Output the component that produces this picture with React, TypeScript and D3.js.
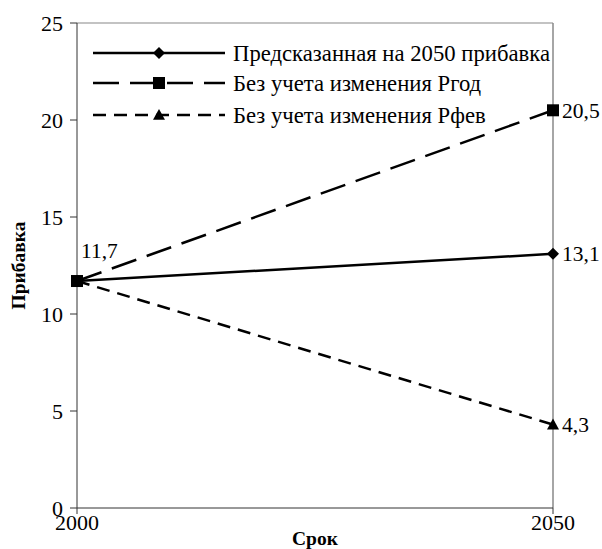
import React from "react";
import * as d3 from "d3";

const years = ["2000", "2050"];
const predicted = [11.7, 13.1];
const noYearChange = [11.7, 20.5];
const noFebChange = [11.7, 4.3];
const yTicks = [0, 5, 10, 15, 20, 25];
const seriesNames = [
  "Предсказанная на 2050 прибавка",
  "Без учета изменения Ргод",
  "Без учета изменения Рфев",
];

const W = 602, H = 549;
const M = { left: 77, right: 553, top: 23, bottom: 508 };
const FONT = "Liberation Serif, DejaVu Serif, serif";
const fs = (size: number, extra: any = {}) => ({ fontFamily: FONT, fontSize: size, ...extra });

export default function App() {
  const x = d3.scalePoint<string>().domain(years).range([M.left, M.right]);
  const y = d3.scaleLinear().domain([0, 25]).range([M.bottom, M.top]);
  const line = d3.line<number>().x((_, i) => x(years[i])!).y((d) => y(d));

  const series = [
    { name: seriesNames[0], values: predicted, dash: "", marker: "diamond" },
    { name: seriesNames[1], values: noYearChange, dash: "26 11", marker: "square" },
    { name: seriesNames[2], values: noFebChange, dash: "13 8", marker: "triangle" },
  ];

  const marker = (type: string, cx: number, cy: number, key: string) => {
    if (type === "diamond") {
      const s = 6;
      return <path key={key} d={`M${cx},${cy - s}L${cx + s},${cy}L${cx},${cy + s}L${cx - s},${cy}Z`} fill="#000" />;
    }
    if (type === "square") {
      const s = 6;
      return <rect key={key} x={cx - s} y={cy - s} width={2 * s} height={2 * s} fill="#000" />;
    }
    const s = 6;
    return <path key={key} d={`M${cx},${cy - s}L${cx + s},${cy + s * 0.8}L${cx - s},${cy + s * 0.8}Z`} fill="#000" />;
  };

  const legendY = [53, 83, 115];
  const lx1 = 93, lx2 = 225, lmx = 159;

  return (
    <svg width={W} height={H} style={{ position: "absolute", left: 0, top: 0, background: "#fff" }}>
      <rect x={0} y={0} width={W} height={H} fill="#fff" />
      {/* frame */}
      <line x1={M.left} x2={M.right} y1={M.top} y2={M.top} stroke="#888" strokeWidth={1.2} />
      <line x1={M.right} x2={M.right} y1={M.top} y2={M.bottom} stroke="#888" strokeWidth={1.5} />
      <line x1={M.left} x2={M.left} y1={M.top} y2={M.bottom} stroke="#333" strokeWidth={1} />
      <line x1={M.left} x2={M.right} y1={M.bottom} y2={M.bottom} stroke="#333" strokeWidth={1} />
      {yTicks.map((t) => (
        <g key={t}>
          <line x1={M.left - 7} x2={M.left} y1={y(t)} y2={y(t)} stroke="#333" />
          <text x={63} y={y(t)} dy="0.35em" textAnchor="end" fill="#000" style={fs(22)}>{t}</text>
        </g>
      ))}
      {years.map((yr) => (
        <g key={yr}>
          <line x1={x(yr)!} x2={x(yr)!} y1={M.bottom} y2={M.bottom + 6} stroke="#333" />
          <text x={x(yr)!} y={530} textAnchor="middle" fill="#000" style={fs(22)}>{yr}</text>
        </g>
      ))}
      <text x={(M.left + M.right) / 2} y={545} textAnchor="middle" style={fs(19.5, { fontWeight: "bold" })}>Срок</text>
      <text transform={`translate(25,${(M.top + M.bottom) / 2}) rotate(-90)`} textAnchor="middle" style={fs(19.5, { fontWeight: "bold" })}>Прибавка</text>

      {series.map((s, si) => (
        <g key={si}>
          <path d={line(s.values)!} fill="none" stroke="#000" strokeWidth={2.5} strokeDasharray={s.dash} />
          {s.values.map((v, i) => marker(s.marker, x(years[i])!, y(v), `${si}-${i}`))}
        </g>
      ))}
      {/* data labels */}
      <text x={81} y={258} style={fs(21.5)}>{"11,7"}</text>
      {series.map((s, si) => (
        <text key={si} x={562} y={y(s.values[1])} dy="0.35em" style={fs(21.5)}>
          {String(s.values[1]).replace(".", ",")}
        </text>
      ))}
      {/* legend */}
      {series.map((s, si) => (
        <g key={si}>
          <line x1={lx1} x2={lx2} y1={legendY[si]} y2={legendY[si]} stroke="#000" strokeWidth={2.5} strokeDasharray={s.dash} />
          {marker(s.marker, lmx, legendY[si], `l${si}`)}
          <text x={233} y={legendY[si]} dy="0.35em" style={fs(22.7)}>{s.name}</text>
        </g>
      ))}
    </svg>
  );
}
